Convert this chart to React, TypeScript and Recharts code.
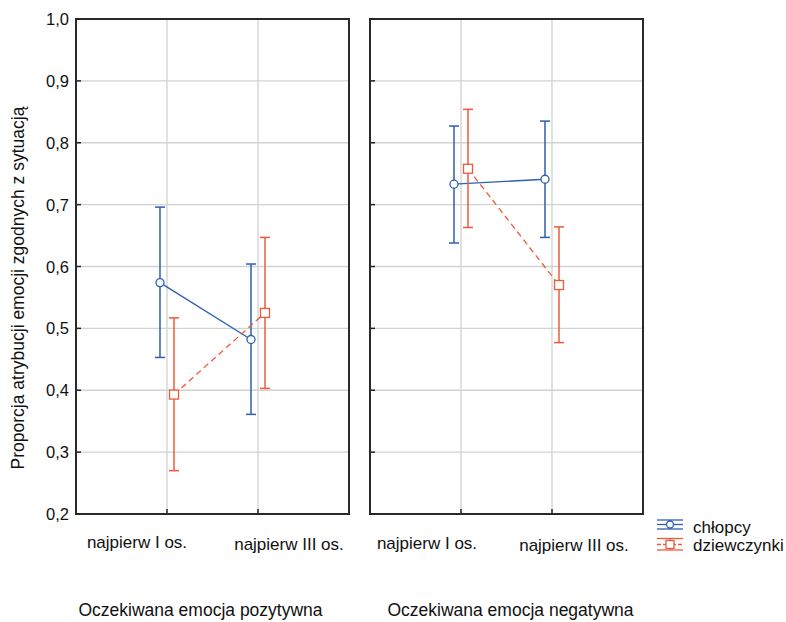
import React from 'react';
import { ComposedChart, Line, XAxis, YAxis, CartesianGrid, ErrorBar, ReferenceArea, Legend } from 'recharts';

const categories = ['najpierw I os.', 'najpierw III os.'];
const panelTitles = ['Oczekiwana emocja pozytywna', 'Oczekiwana emocja negatywna'];
const yTicks = [0.2, 0.3, 0.4, 0.5, 0.6, 0.7, 0.8, 0.9, 1.0];

// emocja pozytywna
const boysPosMean = [0.574, 0.482];
const boysPosLow = [0.453, 0.361];
const boysPosHigh = [0.696, 0.604];
const girlsPosMean = [0.393, 0.525];
const girlsPosLow = [0.27, 0.403];
const girlsPosHigh = [0.517, 0.647];

// emocja negatywna
const boysNegMean = [0.733, 0.741];
const boysNegLow = [0.638, 0.647];
const boysNegHigh = [0.827, 0.835];
const girlsNegMean = [0.758, 0.57];
const girlsNegLow = [0.663, 0.477];
const girlsNegHigh = [0.854, 0.664];

const BLUE = '#2c5fb2';
const RED = '#ef5a3c';
const FONT = '"Liberation Sans", Arial, sans-serif';
const SHIFT = 0.077;

const toRows = (mean: number[], low: number[], high: number[], shift: number) =>
  mean.map((m, i) => ({ x: i + 1 + shift, y: m, err: [m - low[i], high[i] - m] }));

const fmt = (v: number) => v.toFixed(1).replace('.', ',');

const CircleDot = (p: any) => (
  <circle key={p.index} cx={p.cx} cy={p.cy} r={4} fill="#fff" stroke={BLUE} strokeWidth={1.3} />
);
const SquareDot = (p: any) => (
  <rect key={p.index} x={p.cx - 4.5} y={p.cy - 4.5} width={9} height={9} fill="#fff" stroke={RED} strokeWidth={1.3} />
);

// the axes are 1px wide, so ticks come at the plot edge +/- 1
const LeftTick = ({ x, y, payload }: any) => (
  <g>
    <line x1={x + 1} y1={y} x2={x + 5} y2={y} stroke="#222" strokeWidth={1.5} />
    <text x={x - 7} y={y + 6} textAnchor="end" fontSize={16.5} fill="#111" fontFamily={FONT}>
      {fmt(payload.value)}
    </text>
  </g>
);
const LeftMarkOnly = ({ x, y }: any) => <line x1={x + 1} y1={y} x2={x + 5} y2={y} stroke="#222" strokeWidth={1.5} />;
const RightTick = ({ x, y }: any) => <line x1={x - 1} y1={y} x2={x - 5} y2={y} stroke="#222" strokeWidth={1.5} />;

const makeBottomTick = (offsets: number[], baselines: number[]) => ({ x, y, payload, index }: any) => (
  <g>
    <line x1={x} y1={y - 1} x2={x} y2={y - 5} stroke="#222" strokeWidth={1.5} />
    <text x={x + offsets[index]} y={baselines[index]} textAnchor="middle" fontSize={17} fill="#111" fontFamily={FONT}>
      {categories[Math.round(payload.value) - 1]}
    </text>
  </g>
);

const LegendBox = () => (
  <div style={{ position: 'relative', width: 130, height: 40, fontFamily: FONT, fontSize: 17, color: '#111' }}>
    <svg width={28} height={40} style={{ position: 'absolute', left: 0, top: 0 }}>
      <g stroke={BLUE} strokeWidth={1.3} fill="none">
        <line x1={0} y1={3} x2={26} y2={3} />
        <line x1={13} y1={3} x2={13} y2={12} />
        <line x1={0} y1={7.5} x2={9.5} y2={7.5} />
        <line x1={16.5} y1={7.5} x2={26} y2={7.5} />
        <line x1={0} y1={12} x2={26} y2={12} />
        <circle cx={13} cy={7.5} r={3.5} fill="#fff" />
      </g>
      <g stroke={RED} strokeWidth={1.3} fill="none">
        <line x1={0} y1={21.5} x2={26} y2={21.5} />
        <line x1={13} y1={21.5} x2={13} y2={33} />
        <line x1={0} y1={27.5} x2={9} y2={27.5} strokeDasharray="4 2" />
        <line x1={17} y1={27.5} x2={26} y2={27.5} strokeDasharray="2 2 4 2" />
        <line x1={0} y1={33} x2={26} y2={33} />
        <rect x={9} y={23.5} width={8} height={8} fill="#fff" />
      </g>
    </svg>
    <div style={{ position: 'absolute', left: 36, top: 1, lineHeight: '19px' }}>chłopcy</div>
    <div style={{ position: 'absolute', left: 36, top: 19, lineHeight: '19px' }}>dziewczynki</div>
  </div>
);

interface PanelProps {
  boys: { x: number; y: number; err: number[] }[];
  girls: { x: number; y: number; err: number[] }[];
  title: string;
  width: number;
  margin: { top: number; right: number; bottom: number; left: number };
  showYLabels: boolean;
  titleOffset: number;
  tickOffsets: number[];
  tickBaselines: number[];
  legend?: boolean;
}

function Panel({ boys, girls, title, width, margin, showYLabels, titleOffset, tickOffsets, tickBaselines, legend }: PanelProps) {
  return (
    <ComposedChart width={width} height={622} margin={margin}>
      <CartesianGrid stroke="#d2d2d2" strokeWidth={1.3} />
      <XAxis
        dataKey="x"
        type="number"
        domain={[0, 3]}
        ticks={[1, 2]}
        height={1}
        axisLine={false}
        tickLine={false}
        tickSize={0}
        tickMargin={0}
        interval={0}
        tick={makeBottomTick(tickOffsets, tickBaselines)}
        label={({ viewBox }: any) => (
          <text
            x={viewBox.x + viewBox.width / 2 + titleOffset}
            y={616}
            textAnchor="middle"
            fontSize={17.5}
            fill="#111"
            fontFamily={FONT}
          >
            {title}
          </text>
        )}
      />
      <YAxis
        type="number"
        domain={[0.2, 1]}
        ticks={yTicks}
        width={1}
        axisLine={false}
        tickLine={false}
        tickSize={0}
        tickMargin={0}
        interval={0}
        tick={showYLabels ? <LeftTick /> : <LeftMarkOnly />}
        label={
          showYLabels
            ? ({ viewBox }: any) => (
                <text
                  transform={`rotate(-90, 18, 288)`}
                  x={18}
                  y={288}
                  textAnchor="middle"
                  dominantBaseline="central"
                  fontSize={17.5}
                  fill="#111"
                  fontFamily={FONT}
                >
                  Proporcja atrybucji emocji zgodnych z sytuacją
                </text>
              )
            : undefined
        }
      />
      <YAxis
        yAxisId="r"
        orientation="right"
        type="number"
        domain={[0.2, 1]}
        ticks={yTicks}
        width={1}
        axisLine={false}
        tickLine={false}
        tickSize={0}
        tickMargin={0}
        interval={0}
        tick={<RightTick />}
      />
      <ReferenceArea x1={0} x2={3} y1={0.2} y2={1} fill="none" stroke="#2a2a2a" strokeWidth={2} ifOverflow="visible" />
      <Line
        data={boys}
        dataKey="y"
        stroke={BLUE}
        strokeWidth={1.3}
        dot={CircleDot}
        activeDot={false}
        isAnimationActive={false}
        legendType="circle"
        name="chłopcy"
      >
        <ErrorBar dataKey="err" direction="y" width={5} stroke={BLUE} strokeWidth={1.5} isAnimationActive={false} />
      </Line>
      <Line
        data={girls}
        dataKey="y"
        stroke={RED}
        strokeWidth={1.3}
        strokeDasharray="6 4"
        dot={SquareDot}
        activeDot={false}
        isAnimationActive={false}
        legendType="square"
        name="dziewczynki"
      >
        <ErrorBar dataKey="err" direction="y" width={5} stroke={RED} strokeWidth={1.5} isAnimationActive={false} />
      </Line>
      {legend && (
        <Legend
          layout="horizontal"
          verticalAlign="middle"
          content={() => <LegendBox />}
          wrapperStyle={{ left: 297, top: 517, width: 130, height: 40 }}
        />
      )}
    </ComposedChart>
  );
}

export default function App() {
  return (
    <div style={{ position: 'absolute', left: 0, top: 0, width: 786, height: 622, background: '#fff' }}>
      <div style={{ position: 'absolute', left: 0, top: 0 }}>
        <Panel
          boys={toRows(boysPosMean, boysPosLow, boysPosHigh, -SHIFT)}
          girls={toRows(girlsPosMean, girlsPosLow, girlsPosHigh, SHIFT)}
          title={panelTitles[0]}
          width={360}
          margin={{ top: 19, right: 10, bottom: 107, left: 75 }}
          showYLabels
          titleOffset={-12}
          tickOffsets={[-30, 31]}
          tickBaselines={[548, 550]}
        />
      </div>
      <div style={{ position: 'absolute', left: 360, top: 0 }}>
        <Panel
          boys={toRows(boysNegMean, boysNegLow, boysNegHigh, -SHIFT)}
          girls={toRows(girlsNegMean, girlsNegLow, girlsNegHigh, SHIFT)}
          title={panelTitles[1]}
          width={426}
          margin={{ top: 19, right: 142, bottom: 107, left: 9 }}
          showYLabels={false}
          titleOffset={4}
          tickOffsets={[-34, 22]}
          tickBaselines={[549, 551]}
          legend
        />
      </div>
    </div>
  );
}
